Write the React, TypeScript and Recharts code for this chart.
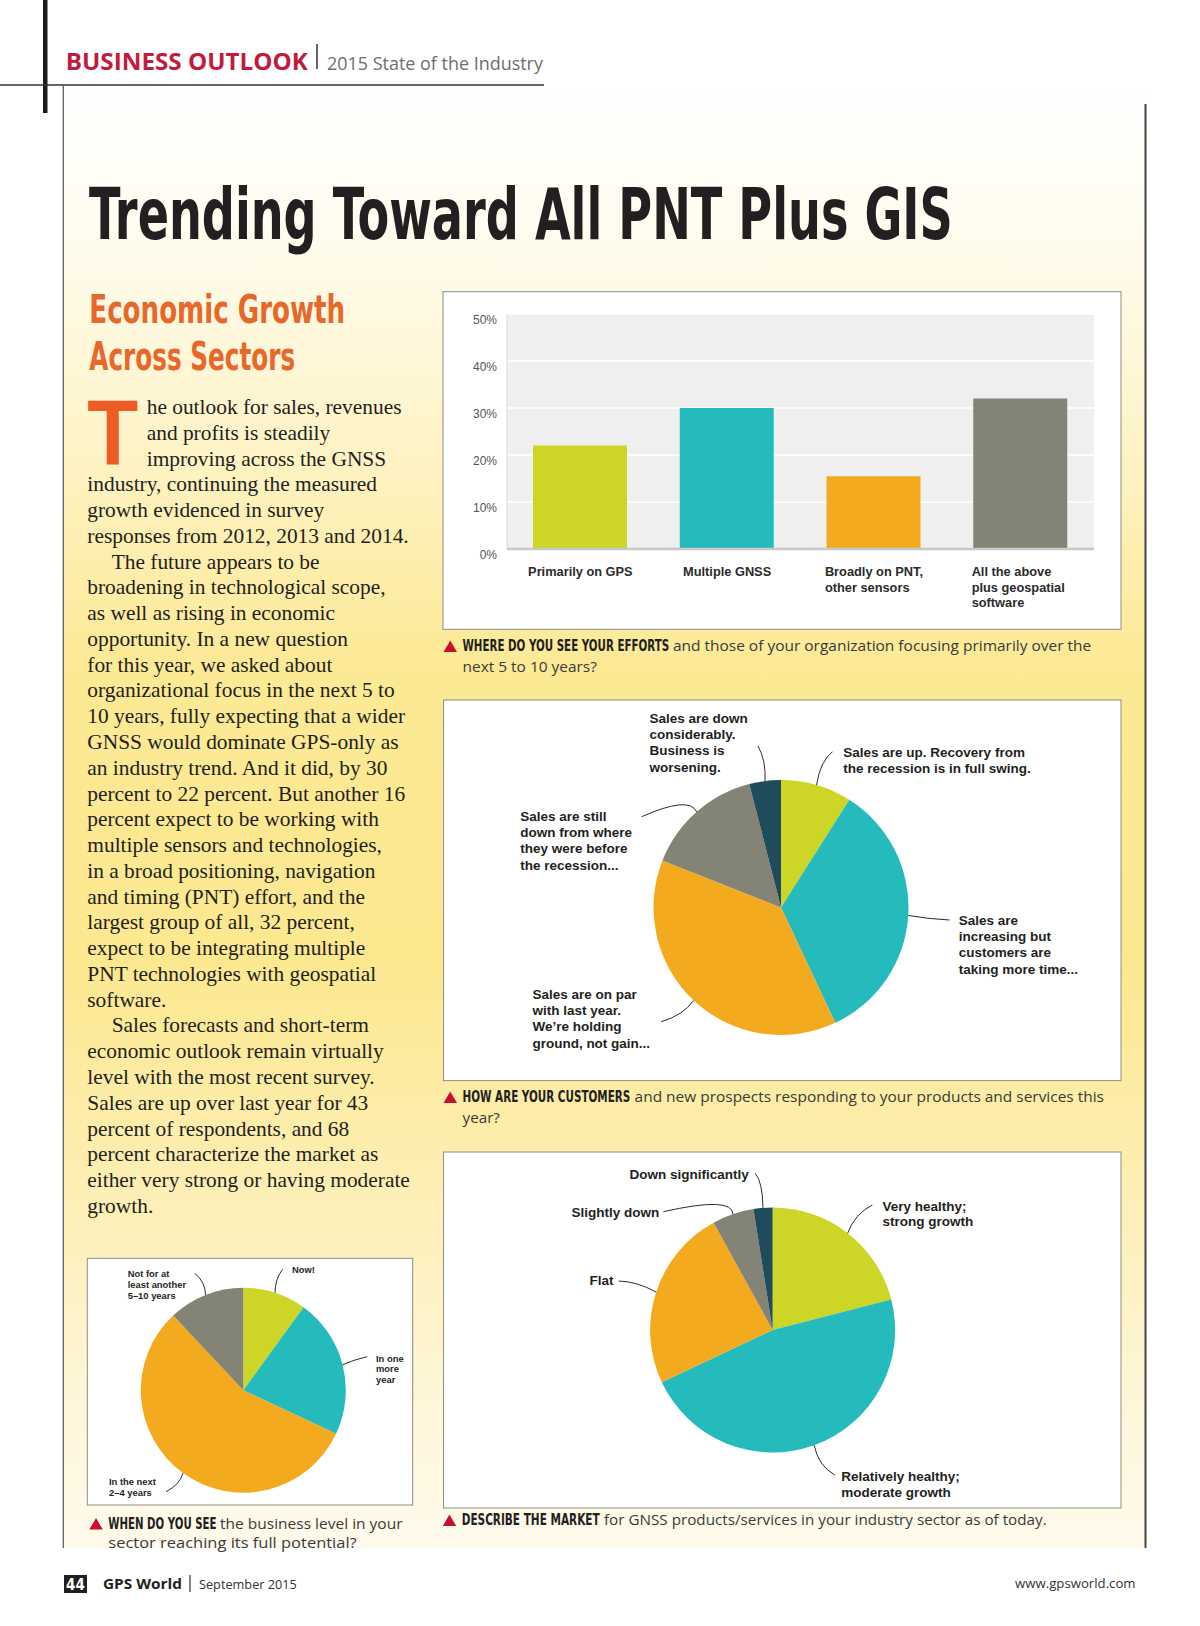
import React, { useLayoutEffect, useRef, useState } from "react";
import { BarChart, Bar, XAxis, YAxis, CartesianGrid, Cell, PieChart, Pie } from "recharts";

// chart 1: where efforts will focus in the next 5 to 10 years (%)
const focusCategories = ["Primarily on GPS", "Multiple GNSS", "Broadly on PNT,\nother sensors", "All the above\nplus geospatial\nsoftware"];
const focusShares = [22, 30, 15.5, 32];
const percentTicks = [0, 10, 20, 30, 40, 50];

// chart 2: how customers are responding (clockwise from 12 o'clock)
const customerCategories = [
  "Sales are up. Recovery from\nthe recession is in full swing.",
  "Sales are\nincreasing but\ncustomers are\ntaking more time...",
  "Sales are on par\nwith last year.\nWe\u2019re holding\nground, not gain...",
  "Sales are still\ndown from where\nthey were before\nthe recession...",
  "Sales are down\nconsiderably.\nBusiness is\nworsening.",
];
const customerShares = [9, 34, 38, 15, 4];

// chart 3: describe the market
const marketCategories = ["Very healthy;\nstrong growth", "Relatively healthy;\nmoderate growth", "Flat", "Slightly down", "Down significantly"];
const marketShares = [21, 47, 24, 5.5, 2.5];

// chart 4: when business reaches full potential
const potentialCategories = ["Now!", "In one\nmore\nyear", "In the next\n2\u20134 years", "Not for at\nleast another\n5\u201310 years"];
const potentialShares = [10, 22, 56, 12];

const sliceColors = ["#cdd526", "#25bbbd", "#f4aa1e", "#838376", "#1f4b5b"];

const bodyLines = [
  "he outlook for sales, revenues",
  "and profits is steadily",
  "improving across the GNSS",
  "industry, continuing the measured",
  "growth evidenced in survey",
  "responses from 2012, 2013 and 2014.",
  "The future appears to be",
  "broadening in technological scope,",
  "as well as rising in economic",
  "opportunity. In a new question",
  "for this year, we asked about",
  "organizational focus in the next 5 to",
  "10 years, fully expecting that a wider",
  "GNSS would dominate GPS-only as",
  "an industry trend. And it did, by 30",
  "percent to 22 percent. But another 16",
  "percent expect to be working with",
  "multiple sensors and technologies,",
  "in a broad positioning, navigation",
  "and timing (PNT) effort, and the",
  "largest group of all, 32 percent,",
  "expect to be integrating multiple",
  "PNT technologies with geospatial",
  "software.",
  "Sales forecasts and short-term",
  "economic outlook remain virtually",
  "level with the most recent survey.",
  "Sales are up over last year for 43",
  "percent of respondents, and 68",
  "percent characterize the market as",
  "either very strong or having moderate",
  "growth.",
];

const SANS = "'Liberation Sans', Arial, sans-serif";
const NARROW = "'Liberation Sans Narrow', 'DejaVu Sans Condensed', 'DejaVu Sans', sans-serif";
const MYRIAD = "'Open Sans', 'Noto Sans', sans-serif";
const SERIF = "'Liberation Serif', 'Times New Roman', serif";
const INK = "#231f20";

// callout placement relative to pie centre: text start, leader end, curve control
type Callout = { tx: number; ty: number; ex: number; ey: number; qx: number; qy: number };

const customerCallouts: Callout[] = [
  { tx: 62.3, ty: -151, ex: 51.5, ey: -155.8, qx: 39, qy: -146 },
  { tx: 177.7, ty: 17.5, ex: 168.6, ey: 12.5, qx: 148, qy: 11.5 },
  { tx: -248.6, ty: 91.5, ex: -119.8, ey: 114.2, qx: -98, qy: 108 },
  { tx: -260.8, ty: -86.5, ex: -139.3, ey: -90.8, qx: -91.6, qy: -112 },
  { tx: -131.5, ty: -184.5, ex: -23.1, ey: -161.5, qx: -15, qy: -148 },
];
const marketCallouts: Callout[] = [
  { tx: 109.8, ty: -119.5, ex: 99.8, ey: -125, qx: 82, qy: -116 },
  { tx: 68.6, ty: 151, ex: 62.1, ey: 145, qx: 46, qy: 136 },
  { tx: -183, ty: -45.5, ex: -153.9, ey: -49, qx: -135, qy: -48.5 },
  { tx: -201.2, ty: -113, ex: -109.2, ey: -118.3, qx: -40, qy: -134 },
  { tx: -143.1, ty: -151.5, ex: -17.3, ey: -156.7, qx: -10, qy: -148 },
];
const potentialCallouts: Callout[] = [
  { tx: 48.7, ty: -117.7, ex: 39.4, ey: -120.9, qx: 32, qy: -112 },
  { tx: 132.7, ty: -28.7, ex: 124, ey: -33.5, qx: 112, qy: -31 },
  { tx: -134.3, ty: 94.8, ex: -77.3, ey: 101.5, qx: -64, qy: 95 },
  { tx: -115.6, ty: -112.9, ex: -48.3, ey: -116.9, qx: -38, qy: -108 },
];

const RAD = Math.PI / 180;

// squeezes a text to a measured width with a real transform, so its box is honest
function FitText(props: { x: number; y: number; width: number; children: string; [k: string]: any }) {
  const { x, y, width, children, ...rest } = props;
  const ref = useRef<SVGTextElement>(null);
  const [k, setK] = useState(1);
  useLayoutEffect(() => {
    if (ref.current) {
      const w = ref.current.getComputedTextLength();
      if (w > 0) setK(width / w);
    }
  }, [width, children]);
  return (
    <text ref={ref} x={0} y={0} transform={`translate(${x},${y}) scale(${k},1)`} {...rest}>
      {children}
    </text>
  );
}

function makeCallout(labels: string[], callouts: Callout[], fontSize: number, lineHeight: number) {
  return (props: any) => {
    const { cx, cy, midAngle, outerRadius, index } = props;
    const c = callouts[index];
    const sx = cx + outerRadius * Math.cos(-midAngle * RAD);
    const sy = cy + outerRadius * Math.sin(-midAngle * RAD);
    const lines = labels[index].split("\n");
    return (
      <g key={`callout-${index}`}>
        <path
          d={`M${sx},${sy} Q${cx + c.qx},${cy + c.qy} ${cx + c.ex},${cy + c.ey}`}
          fill="none"
          stroke="#2b2b2b"
          strokeWidth={1}
        />
        <text x={cx + c.tx} y={cy + c.ty} fontFamily={SANS} fontWeight={700} fontSize={fontSize} fill={INK}>
          {lines.map((l, i) => (
            <tspan key={i} x={cx + c.tx} dy={i === 0 ? 0 : lineHeight}>
              {l}
            </tspan>
          ))}
        </text>
      </g>
    );
  };
}

function FocusTick(props: any) {
  const { x, y, payload } = props;
  const lines = String(payload.value).split("\n");
  const multi = lines.length > 1;
  const tx = multi ? x - 49 : x;
  return (
    <text x={tx} y={y + 27} textAnchor={multi ? "start" : "middle"} fontFamily={SANS} fontWeight={700} fontSize={12.8} fill="#2b2b2b">
      {lines.map((l, i) => (
        <tspan key={i} x={tx} dy={i === 0 ? 0 : 15.5}>
          {l}
        </tspan>
      ))}
    </text>
  );
}

function PercentTick(props: any) {
  const { x, y, payload } = props;
  return (
    <text x={x} y={y + 10.3} textAnchor="end" fontFamily={SANS} fontSize={12} fill="#555">
      {`${payload.value}%`}
    </text>
  );
}

function FocusChart() {
  const data = focusCategories.map((name, i) => ({ name, value: focusShares[i] }));
  return (
    <BarChart width={678} height={338} data={data} margin={{ top: 22, right: 27, bottom: 0, left: 0 }}>
      <CartesianGrid vertical={false} stroke="#ffffff" strokeWidth={1.5} fill="#efefef" fillOpacity={1} />
      <YAxis
        width={64}
        domain={[0, 50]}
        ticks={percentTicks}
        tickSize={0}
        tickMargin={10}
        tickLine={false}
        axisLine={{ stroke: "#dadada" }}
        tick={<PercentTick />}
      />
      <XAxis
        dataKey="name"
        height={81}
        interval={0}
        tickSize={0}
        tickMargin={0}
        tickLine={false}
        axisLine={{ stroke: "#c8c8c8", strokeWidth: 2.5 }}
        tick={<FocusTick />}
      />
      <Bar dataKey="value" barSize={94} isAnimationActive={false}>
        {data.map((d, i) => (
          <Cell key={d.name} fill={sliceColors[i]} />
        ))}
      </Bar>
    </BarChart>
  );
}

function SurveyPie(props: {
  width: number;
  height: number;
  cx: number;
  cy: number;
  r: number;
  labels: string[];
  values: number[];
  callouts: Callout[];
  fontSize: number;
  lineHeight: number;
}) {
  const data = props.labels.map((name, i) => ({ name, value: props.values[i] }));
  return (
    <PieChart width={props.width} height={props.height} margin={{ top: 0, right: 0, bottom: 0, left: 0 }}>
      <Pie
        data={data}
        dataKey="value"
        cx={props.cx}
        cy={props.cy}
        outerRadius={props.r}
        startAngle={90}
        endAngle={-270}
        stroke="none"
        isAnimationActive={false}
        labelLine={false}
        label={makeCallout(props.labels, props.callouts, props.fontSize, props.lineHeight)}
      >
        {data.map((d, i) => (
          <Cell key={d.name} fill={sliceColors[i]} />
        ))}
      </Pie>
    </PieChart>
  );
}

function Caption(p: { x: number; y: number; lead: string; leadLen: number; gap: number; rest: string; restLen: number; more?: string; moreLen?: number; step?: number }) {
  return (
    <g>
      <polygon points={`${p.x - 19},${p.y + 1} ${p.x - 5.5},${p.y + 1} ${p.x - 12.25},${p.y - 10.5}`} fill="#c8102e" />
      <FitText x={p.x} y={p.y} width={p.leadLen} fontFamily={NARROW} fontStretch="condensed" fontWeight={700} fontSize={15} fill={INK}>
        {p.lead}
      </FitText>
      <FitText x={p.x + p.leadLen + p.gap} y={p.y} width={p.restLen} fontFamily={MYRIAD} fontSize={15} fill="#3a3a3a">
        {p.rest}
      </FitText>
      {p.more && (
        <FitText x={p.x} y={p.y + (p.step ?? 20.5)} width={p.moreLen ?? 0} fontFamily={MYRIAD} fontSize={15} fill="#3a3a3a">
          {p.more}
        </FitText>
      )}
    </g>
  );
}

export default function App() {
  return (
    <div style={{ position: "absolute", left: 0, top: 0, width: 1200, height: 1626, background: "#ffffff", overflow: "hidden" }}>
      <svg width={1200} height={1626} style={{ position: "absolute", left: 0, top: 0 }}>
        <defs>
          <linearGradient id="panelGrad" x1="0" y1="0" x2="0" y2="1">
            <stop offset="0" stopColor="#ffffff" />
            <stop offset="0.1" stopColor="#fffcef" />
            <stop offset="0.25" stopColor="#fef3c6" />
            <stop offset="0.4" stopColor="#fce994" />
            <stop offset="0.6" stopColor="#fce88f" />
            <stop offset="0.76" stopColor="#fdefb6" />
            <stop offset="0.9" stopColor="#fef6d9" />
            <stop offset="1" stopColor="#fffaec" />
          </linearGradient>
        </defs>

        {/* page frame */}
        <rect x={63} y={86} width={1082} height={1462} fill="url(#panelGrad)" />
        <rect x={43} y={0} width={4.5} height={113} fill="#1a1a1a" />
        <line x1={0} y1={85} x2={544} y2={85} stroke="#333" strokeWidth={1.5} />
        <line x1={63.3} y1={85} x2={63.3} y2={1548} stroke="#555" strokeWidth={1.2} />
        <line x1={1145.5} y1={104} x2={1145.5} y2={1548} stroke="#444" strokeWidth={2} />

        {/* running head */}
        <FitText x={65.8} y={70} width={242} fontFamily={MYRIAD} fontWeight={700} fontSize={23} fill="#c11b3e">
          BUSINESS OUTLOOK
        </FitText>
        <line x1={317} y1={44} x2={317} y2={69} stroke="#333" strokeWidth={1.5} />
        <FitText x={327} y={70} width={216} fontFamily={MYRIAD} fontSize={18.5} fill="#6d6e71">
          2015 State of the Industry
        </FitText>

        {/* title */}
        <FitText x={89} y={239.3} width={864} fontFamily={NARROW} fontStretch="condensed" fontWeight={700} fontSize={72} fill={INK}>
          Trending Toward All PNT Plus GIS
        </FitText>
        <FitText x={89.3} y={323.3} width={256} fontFamily={NARROW} fontStretch="condensed" fontWeight={700} fontSize={39} fill="#e8672b">
          Economic Growth
        </FitText>
        <FitText x={89.3} y={370} width={206} fontFamily={NARROW} fontStretch="condensed" fontWeight={700} fontSize={39} fill="#e8672b">
          Across Sectors
        </FitText>

        {/* body copy */}
        <FitText x={87.3} y={465} width={51} fontFamily={SANS} fontWeight={700} fontSize={92} fill="#ee5b24">
          T
        </FitText>
        {bodyLines.map((line, i) => {
          const x = i < 3 ? 146.7 : i === 6 || i === 24 ? 111.7 : 87.3;
          return (
            <text key={i} x={x} y={414 + i * 25.77} fontFamily={SERIF} fontSize={21.4} fill={INK}>
              {line}
            </text>
          );
        })}

        {/* chart boxes */}
        <rect x={443} y={291.7} width={678} height={337.6} fill="#ffffff" stroke="#8e8e82" strokeWidth={1} />
        <rect x={443.5} y={700} width={677.5} height={380.6} fill="#ffffff" stroke="#8e8e82" strokeWidth={1} />
        <rect x={443.5} y={1152} width={677.5} height={356} fill="#ffffff" stroke="#8e8e82" strokeWidth={1} />
        <rect x={87.3} y={1258.3} width={325.4} height={246.7} fill="#ffffff" stroke="#8e8e82" strokeWidth={1} />

        {/* captions */}
        <Caption x={462.5} y={651} lead="WHERE DO YOU SEE YOUR EFFORTS" leadLen={207} gap={3.4}
          rest="and those of your organization focusing primarily over the" restLen={418.5}
          more="next 5 to 10 years?" moreLen={134.5} />
        <Caption x={462.5} y={1102} lead="HOW ARE YOUR CUSTOMERS" leadLen={168} gap={4.1}
          rest="and new prospects responding to your products and services this" restLen={469.8}
          more="year?" moreLen={37.5} />
        <Caption x={461.7} y={1525} lead="DESCRIBE THE MARKET" leadLen={138} gap={4.3}
          rest="for GNSS products/services in your industry sector as of today." restLen={443} />
        <Caption x={108.3} y={1528.5} lead="WHEN DO YOU SEE" leadLen={108.4} gap={3.3}
          rest="the business level in your" restLen={182.7}
          more="sector reaching its full potential?" moreLen={248.4} step={19} />

        {/* folio */}
        <rect x={64} y={1575} width={23} height={18} fill={INK} />
        <text x={75.5} y={1589.5} textAnchor="middle" fontFamily={NARROW} fontStretch="condensed" fontWeight={700} fontSize={15} fill="#ffffff">
          44
        </text>
        <FitText x={103} y={1589} width={79} fontFamily={MYRIAD} fontWeight={700} fontSize={15} fill={INK}>
          GPS World
        </FitText>
        <line x1={190} y1={1575} x2={190} y2={1592} stroke="#333" strokeWidth={1.2} />
        <FitText x={199} y={1589} width={98} fontFamily={MYRIAD} fontSize={13.5} fill="#333">
          September 2015
        </FitText>
        <FitText x={1015} y={1588} width={120.7} fontFamily={MYRIAD} fontSize={13.5} fill="#333">
          www.gpsworld.com
        </FitText>
      </svg>

      <div style={{ position: "absolute", left: 443, top: 292 }}>
        <FocusChart />
      </div>
      <div style={{ position: "absolute", left: 443, top: 700 }}>
        <SurveyPie width={678} height={381} cx={338} cy={207.5} r={127.5}
          labels={customerCategories} values={customerShares} callouts={customerCallouts} fontSize={13.5} lineHeight={16.2} />
      </div>
      <div style={{ position: "absolute", left: 443, top: 1152 }}>
        <SurveyPie width={678} height={356} cx={329.6} cy={178} r={122.5}
          labels={marketCategories} values={marketShares} callouts={marketCallouts} fontSize={13.5} lineHeight={15.6} />
      </div>
      <div style={{ position: "absolute", left: 87, top: 1258 }}>
        <SurveyPie width={326} height={247} cx={156.3} cy={132.2} r={102.5}
          labels={potentialCategories} values={potentialShares} callouts={potentialCallouts} fontSize={9.4} lineHeight={10.7} />
      </div>
    </div>
  );
}
